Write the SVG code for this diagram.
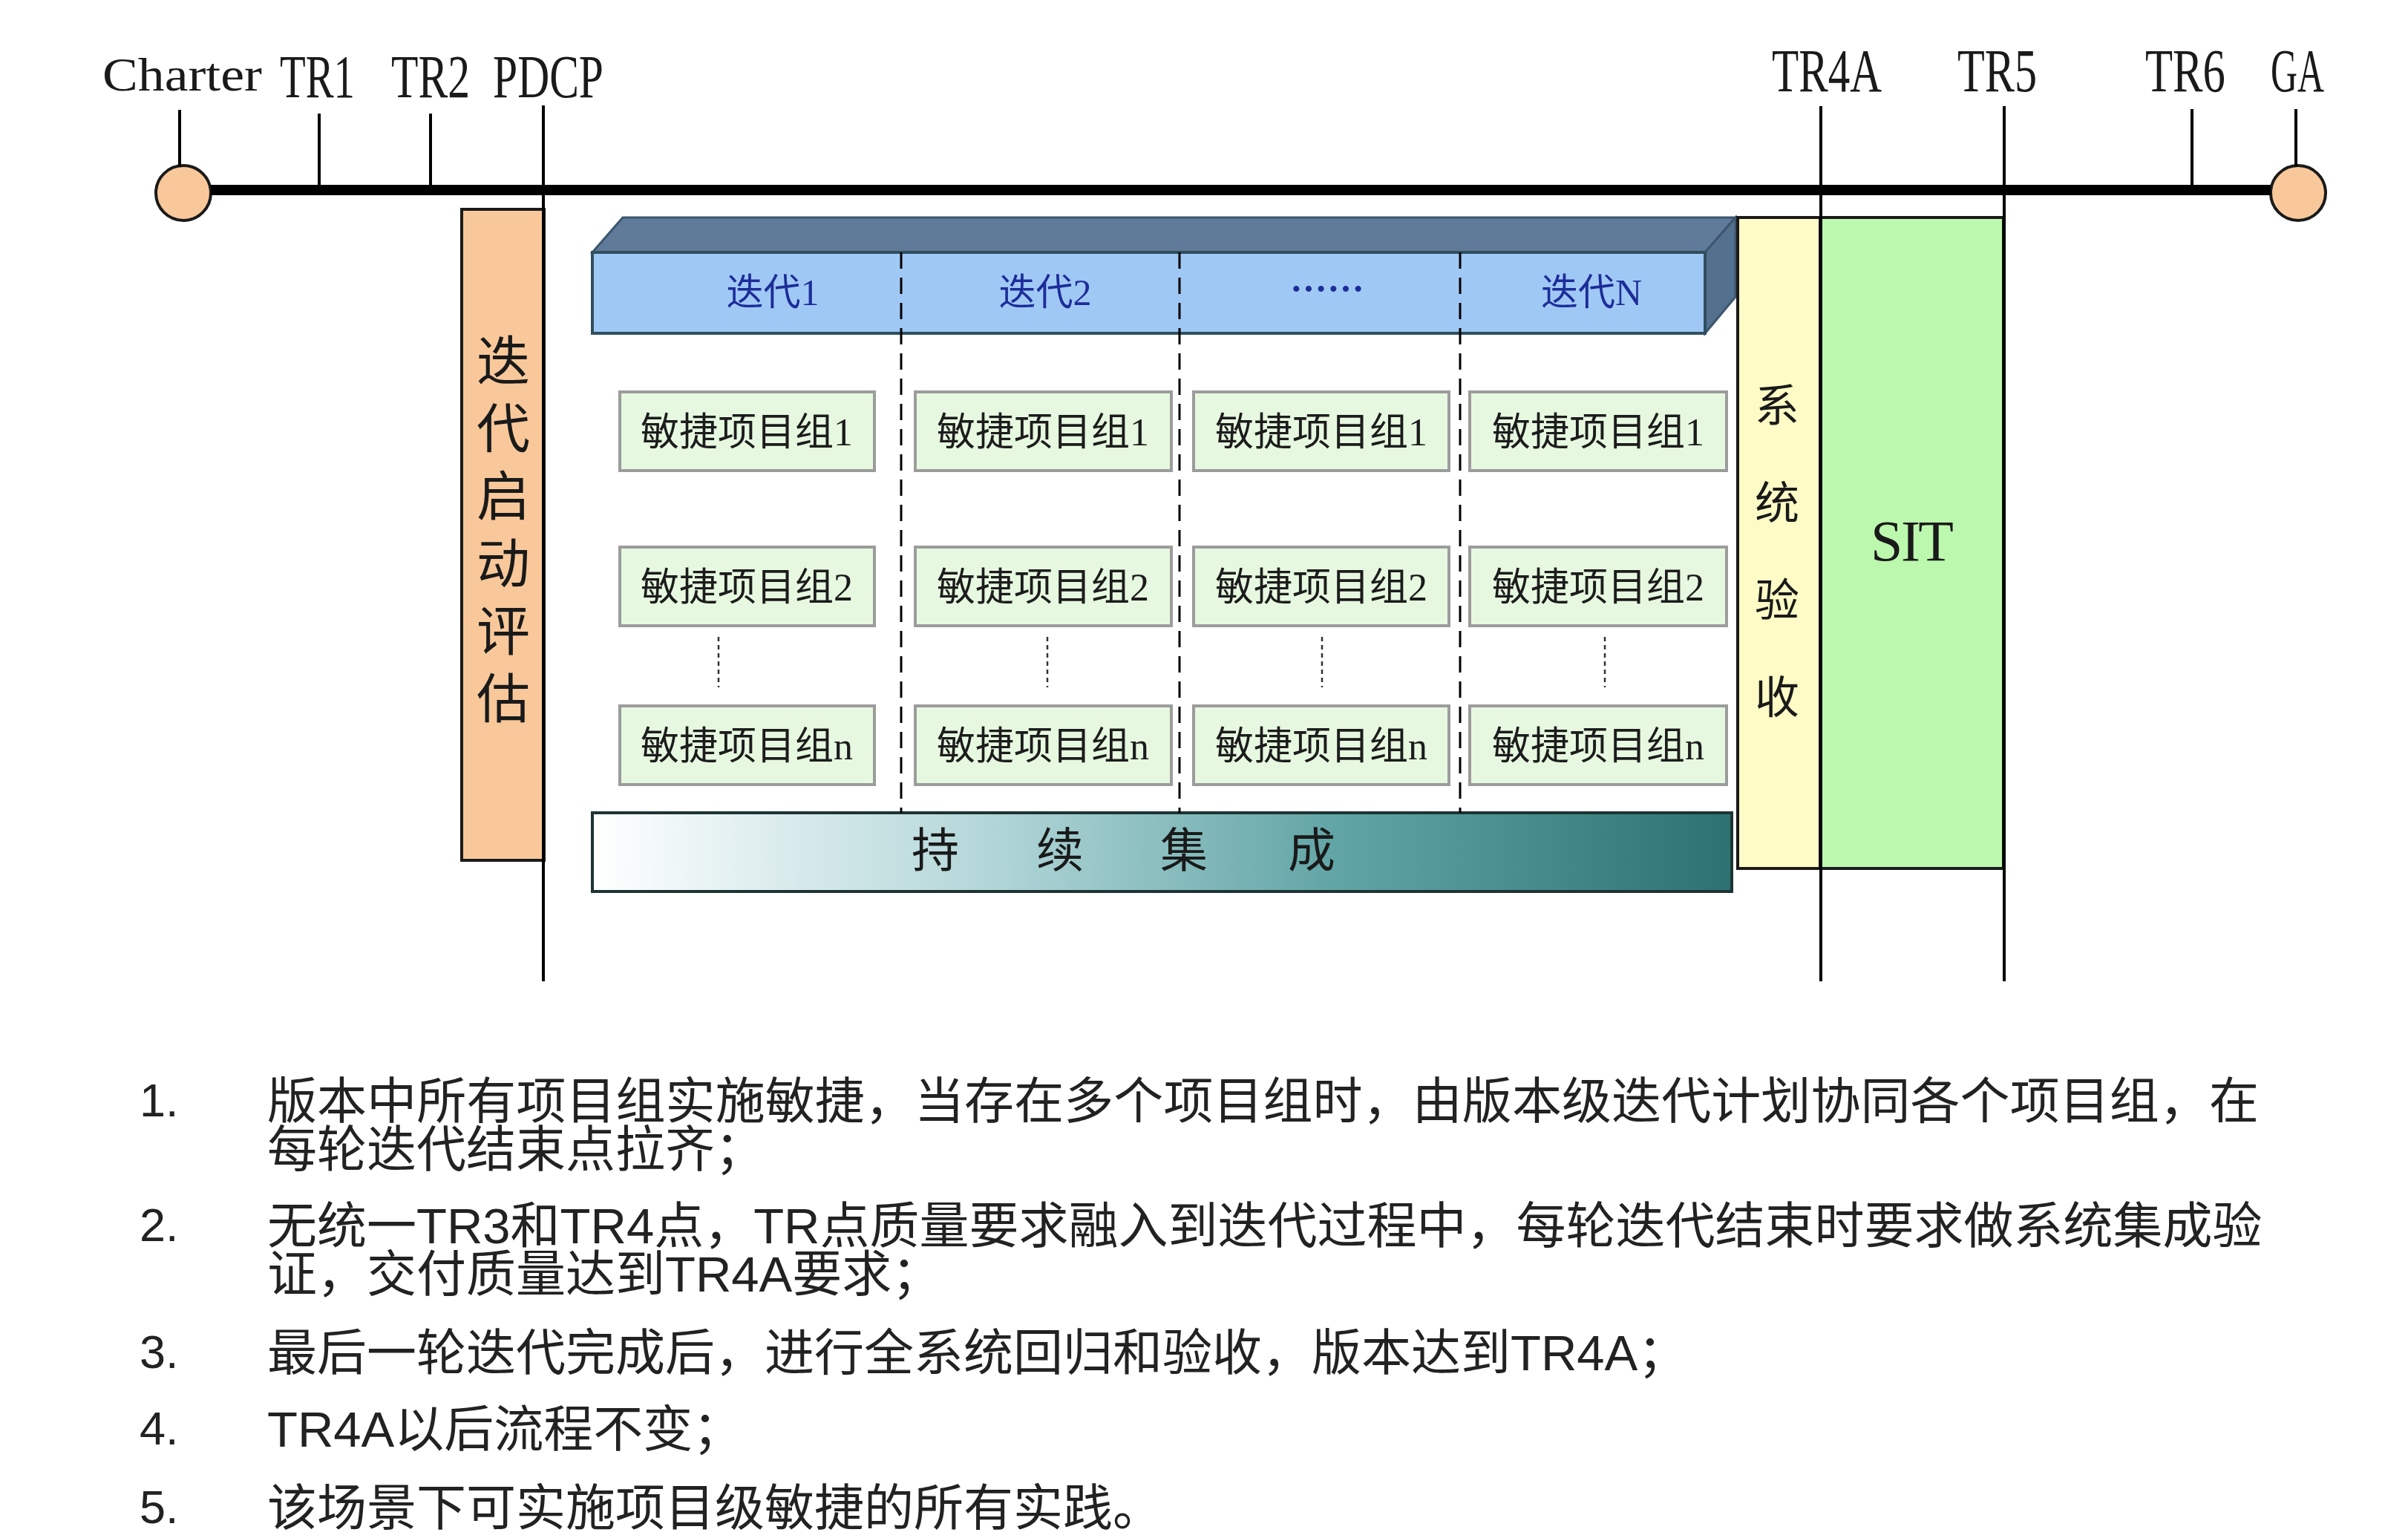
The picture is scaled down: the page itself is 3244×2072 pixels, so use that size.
<svg xmlns="http://www.w3.org/2000/svg" width="3244" height="2072" viewBox="0 0 3244 2072">
<defs>
<linearGradient id="ciGrad" x1="0" y1="0" x2="1" y2="0">
<stop offset="0" stop-color="#FFFFFF"/>
<stop offset="0.35" stop-color="#B2D6D8"/>
<stop offset="0.65" stop-color="#62A5A6"/>
<stop offset="1" stop-color="#2C7272"/>
</linearGradient>
<style>
.lbl{font-family:"Liberation Serif","DejaVu Serif",serif;fill:#1a1a1a}
.tick{stroke:#000;stroke-width:4;fill:none}
.sep{stroke:#000;stroke-width:3;stroke-dasharray:22 12;fill:none}
.dot{stroke:#333;stroke-width:2.5;stroke-dasharray:6 5;fill:none}
.grp rect{fill:#E7F8E0;stroke:#9C9C9C;stroke-width:4}
.grp text{font-family:"Liberation Serif","Noto Sans CJK SC",serif;font-size:52px;fill:#1c1c1c;text-anchor:middle}
.iter{font-family:"Liberation Serif","Noto Sans CJK SC",serif;font-size:50px;fill:#1C2D99;text-anchor:middle}
.vert{font-family:"Noto Sans CJK SC",sans-serif;fill:#1a1a1a;writing-mode:vertical-rl;text-orientation:upright}
.ci{font-family:"Noto Sans CJK SC",sans-serif;fill:#1a1a1a;text-anchor:middle}
.list{font-family:"Liberation Sans","Noto Sans CJK SC",sans-serif;font-size:67px;fill:#222}
.num{font-family:"Liberation Sans",sans-serif;font-size:63px;fill:#222}
</style>
</defs>
<rect width="3244" height="2072" fill="#FFFFFF"/>

<g id="charter">
<circle cx="247" cy="260" r="37" fill="#F8C89A" stroke="#1a1a1a" stroke-width="4"/>
<text class="lbl" x="138" y="122" font-size="63" textLength="215" lengthAdjust="spacingAndGlyphs">Charter</text>
</g>
<g id="ga">
<circle cx="3096" cy="260" r="37" fill="#F8C89A" stroke="#1a1a1a" stroke-width="4"/>
<text class="lbl" x="3059" y="123" font-size="83" textLength="72" lengthAdjust="spacingAndGlyphs">GA</text>
</g>
<g id="tr1"><text class="lbl" x="377" y="131" font-size="83" textLength="101" lengthAdjust="spacingAndGlyphs">TR1</text></g>
<g id="tr2"><text class="lbl" x="527" y="131" font-size="83" textLength="106" lengthAdjust="spacingAndGlyphs">TR2</text></g>
<g id="pdcp"><text class="lbl" x="664" y="131" font-size="83" textLength="149" lengthAdjust="spacingAndGlyphs">PDCP</text></g>
<g id="tr4a"><text class="lbl" x="2387" y="123" font-size="83" textLength="148" lengthAdjust="spacingAndGlyphs">TR4A</text></g>
<g id="tr5"><text class="lbl" x="2637" y="123" font-size="83" textLength="107" lengthAdjust="spacingAndGlyphs">TR5</text></g>
<g id="tr6"><text class="lbl" x="2890" y="123" font-size="83" textLength="108" lengthAdjust="spacingAndGlyphs">TR6</text></g>

<g id="launch-eval">
<rect x="622" y="282" width="111" height="877" fill="#F8C89A" stroke="#1a1a1a" stroke-width="4"/>
<text class="vert" font-size="72" x="678" y="449" letter-spacing="19">迭代启动评估</text>
</g>

<g id="iterations">
<polygon points="798,340 839,293 2338,293 2297,340" fill="#607A99" stroke="#3C566E" stroke-width="3"/>
<polygon points="2297,340 2338,293 2338,400 2297,449" fill="#54708F" stroke="#3C566E" stroke-width="3"/>
<rect x="798" y="340" width="1499" height="109" fill="#A0C8F4" stroke="#2F4F5F" stroke-width="4"/>
<text class="iter" x="1041" y="411">迭代1</text>
<text class="iter" x="1408" y="411">迭代2</text>
<text class="iter" x="1788" y="408" style="font-family:'Noto Sans CJK SC',sans-serif;font-weight:bold">……</text>
<text class="iter" x="2144" y="411">迭代N</text>
</g>

<g id="sys-accept">
<rect x="2341" y="293" width="111" height="877" fill="#FFFBC6" stroke="#1a1a1a" stroke-width="4"/>
<text class="vert" font-size="60" x="2394" y="515" letter-spacing="71">系统验收</text>
</g>
<g id="sit">
<rect x="2452" y="293" width="247" height="877" fill="#BCF8AE" stroke="#1a1a1a" stroke-width="4"/>
<text class="lbl" x="2520" y="755" font-size="78" textLength="112" lengthAdjust="spacing" fill="#143214">SIT</text>
</g>

<g id="groups" class="grp">
<g id="g-1-1"><rect x="835" y="528" width="343" height="106"/><text x="1006" y="600">敏捷项目组1</text></g>
<g id="g-2-1"><rect x="1233" y="528" width="345" height="106"/><text x="1405" y="600">敏捷项目组1</text></g>
<g id="g-3-1"><rect x="1608" y="528" width="344" height="106"/><text x="1780" y="600">敏捷项目组1</text></g>
<g id="g-4-1"><rect x="1980" y="528" width="346" height="106"/><text x="2153" y="600">敏捷项目组1</text></g>
<g id="g-1-2"><rect x="835" y="737" width="343" height="106"/><text x="1006" y="809">敏捷项目组2</text></g>
<g id="g-2-2"><rect x="1233" y="737" width="345" height="106"/><text x="1405" y="809">敏捷项目组2</text></g>
<g id="g-3-2"><rect x="1608" y="737" width="344" height="106"/><text x="1780" y="809">敏捷项目组2</text></g>
<g id="g-4-2"><rect x="1980" y="737" width="346" height="106"/><text x="2153" y="809">敏捷项目组2</text></g>
<g id="g-1-n"><rect x="835" y="951" width="343" height="106"/><text x="1006" y="1023">敏捷项目组n</text></g>
<g id="g-2-n"><rect x="1233" y="951" width="345" height="106"/><text x="1405" y="1023">敏捷项目组n</text></g>
<g id="g-3-n"><rect x="1608" y="951" width="344" height="106"/><text x="1780" y="1023">敏捷项目组n</text></g>
<g id="g-4-n"><rect x="1980" y="951" width="346" height="106"/><text x="2153" y="1023">敏捷项目组n</text></g>
</g>

<g id="ci">
<rect x="798" y="1095" width="1535" height="106" fill="url(#ciGrad)" stroke="#1E3434" stroke-width="4"/>
<text class="ci" font-size="64" y="1168"><tspan x="1260">持</tspan><tspan x="1428">续</tspan><tspan x="1595">集</tspan><tspan x="1767">成</tspan></text>
</g>

<g id="connectors">
<line x1="284" y1="256" x2="3059" y2="256" stroke="#000" stroke-width="14"/>
<line class="tick" x1="242" y1="148" x2="242" y2="224"/>
<line class="tick" x1="430" y1="153" x2="430" y2="256"/>
<line class="tick" x1="580" y1="153" x2="580" y2="256"/>
<line class="tick" x1="2953" y1="147" x2="2953" y2="256"/>
<line class="tick" x1="3093" y1="147" x2="3093" y2="224"/>
<line class="tick" x1="732" y1="142" x2="732" y2="1322"/>
<line class="tick" x1="2453" y1="143" x2="2453" y2="1322"/>
<line class="tick" x1="2700" y1="143" x2="2700" y2="1322"/>
<line class="sep" x1="1214" y1="340" x2="1214" y2="1095"/>
<line class="sep" x1="1589" y1="340" x2="1589" y2="1095"/>
<line class="sep" x1="1967" y1="340" x2="1967" y2="1095"/>
<line class="dot" x1="968" y1="858" x2="968" y2="926"/>
<line class="dot" x1="1411" y1="858" x2="1411" y2="926"/>
<line class="dot" x1="1781" y1="858" x2="1781" y2="926"/>
<line class="dot" x1="2162" y1="858" x2="2162" y2="926"/>
</g>

<g id="notes">
<text class="num" x="188" y="1504">1.</text>
<text class="list"><tspan x="360" y="1507" textLength="2683" lengthAdjust="spacing">版本中所有项目组实施敏捷，当存在多个项目组时，由版本级迭代计划协同各个项目组，在</tspan><tspan x="360" y="1572">每轮迭代结束点拉齐；</tspan></text>
<text class="num" x="188" y="1672">2.</text>
<text class="list"><tspan x="360" y="1675">无统一TR3和TR4点，TR点质量要求融入到迭代过程中，每轮迭代结束时要求做系统集成验</tspan><tspan x="360" y="1740">证，交付质量达到TR4A要求；</tspan></text>
<text class="num" x="188" y="1843">3.</text>
<text class="list" x="360" y="1846">最后一轮迭代完成后，进行全系统回归和验收，版本达到TR4A；</text>
<text class="num" x="188" y="1946">4.</text>
<text class="list" x="360" y="1949">TR4A以后流程不变；</text>
<text class="num" x="188" y="2052">5.</text>
<text class="list" x="360" y="2055">该场景下可实施项目级敏捷的所有实践。</text>
</g>
</svg>
